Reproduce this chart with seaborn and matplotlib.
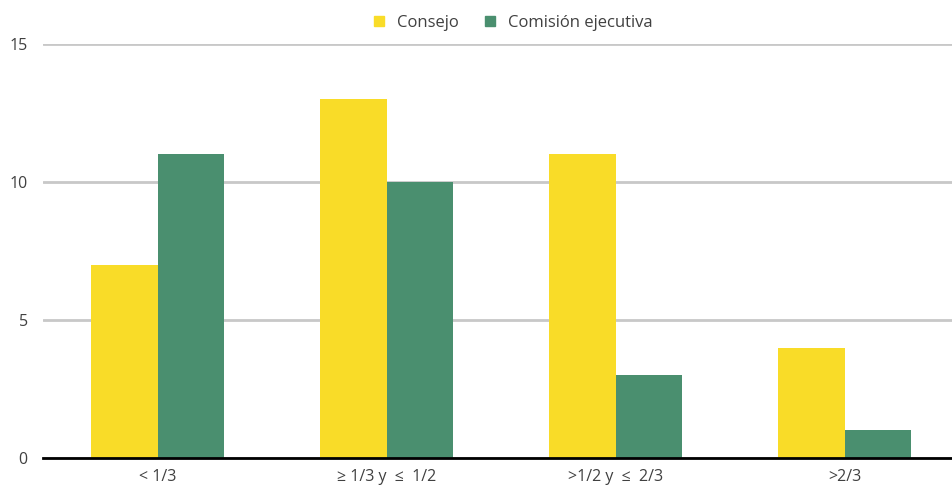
import pandas as pd
import numpy as np
import matplotlib
matplotlib.use('Agg')
import matplotlib.pyplot as plt
import seaborn as sns

categories = ['< 1/3', '≥ 1/3 y  ≤  1/2', '>1/2 y  ≤  2/3', '>2/3']
consejo = [7, 13, 11, 4]
comision = [11, 10, 3, 1]
series = ['Consejo', 'Comisión ejecutiva']

df = pd.DataFrame({
    'cat': categories * 2,
    'valor': consejo + comision,
    'serie': [series[0]] * 4 + [series[1]] * 4,
})

sns.set_style('white')
plt.rcParams['font.family'] = ['Open Sans', 'DejaVu Sans']
text_color = '#404040'

fig = plt.figure(figsize=(9.52, 4.93), dpi=100)
ax = fig.add_axes([43 / 952, 35 / 493, 916 / 952, 414 / 493])

sns.barplot(data=df, x='cat', y='valor', hue='serie', ax=ax,
            palette=['#F9DC28', '#4A8F6F'], width=0.577, saturation=1,
            legend=False, linewidth=0, zorder=3)

ax.set_xlim(-0.5, 3.5)
ax.set_ylim(0, 15)
ax.set_yticks([0, 5, 10, 15])
ax.yaxis.grid(True, color='#C8C8C8', linewidth=2, zorder=0)
ax.set_axisbelow(True)
for s in ['top', 'right', 'left']:
    ax.spines[s].set_visible(False)
ax.spines['bottom'].set_color('black')
ax.spines['bottom'].set_linewidth(2)
ax.spines['bottom'].set_zorder(4)
ax.tick_params(axis='both', length=0, labelsize=11.5, colors=text_color, pad=8)
ax.tick_params(axis='y', pad=11)
ax.set_xlabel('')
ax.set_ylabel('')

handles = [plt.Line2D([], [], marker='s', linestyle='', markersize=7, color=c)
           for c in ['#F9DC28', '#4A8F6F']]
fig.legend(handles, series, loc='upper center', bbox_to_anchor=(0.533, 1.0),
           ncol=2, frameon=False, fontsize=12, handletextpad=0.05,
           columnspacing=0.9, labelcolor=text_color)

fig.savefig('out.png', dpi=100)
